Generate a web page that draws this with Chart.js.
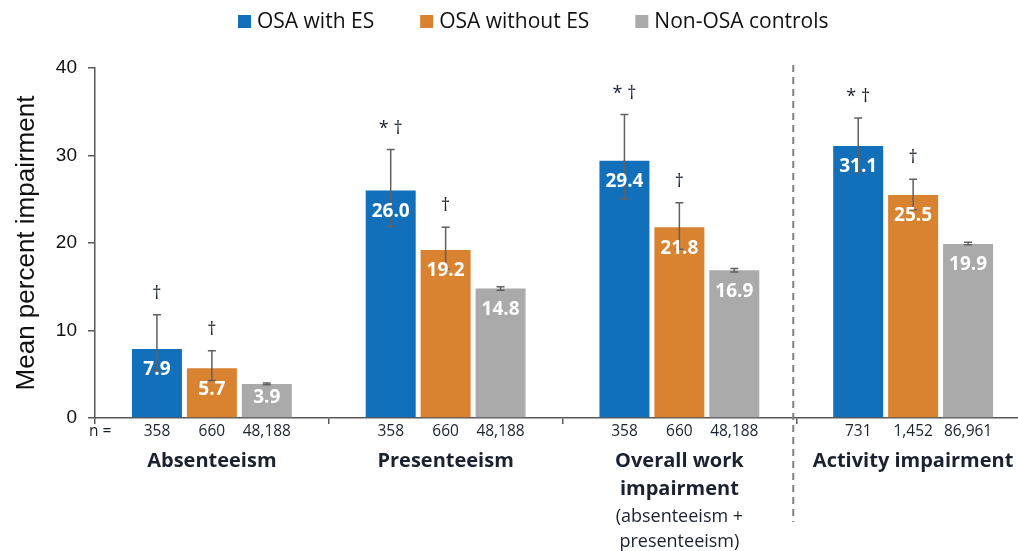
<!DOCTYPE html>
<html>
<head>
<meta charset="utf-8">
<title>Work productivity and activity impairment</title>
<script src="https://cdn.jsdelivr.net/npm/chart.js@4.4.1/dist/chart.umd.min.js"></script>
<style>
  html, body { margin: 0; padding: 0; background: #fff; overflow: hidden; }
  #wrap { width: 1018px; height: 551px; overflow: hidden; }
</style>
</head>
<body>
<div id="wrap"><canvas id="chart" width="1040" height="551"></canvas></div>
<script>
// groups on the x axis (bold lines, then the small note lines under them)
const categories = ['Absenteeism', 'Presenteeism', 'Overall work impairment', 'Activity impairment'];
const categoryLines = [['Absenteeism'], ['Presenteeism'], ['Overall work', 'impairment'], ['Activity impairment']];
const categoryNotes = [[], [], ['(absenteeism +', 'presenteeism)'], []];

const seriesNames = ['OSA with ES', 'OSA without ES', 'Non-OSA controls'];
const seriesColors = ['#1170b9', '#d98230', '#a9aaa9'];

// mean percent impairment
const withES = [7.9, 26.0, 29.4, 31.1];
const withoutES = [5.7, 19.2, 21.8, 25.5];
const controls = [3.9, 14.8, 16.9, 19.9];

// error bar ends
const withESLow = [5.4, 21.9, 25.0, 28.1];
const withESHigh = [11.8, 30.7, 34.7, 34.3];
const withoutESLow = [4.3, 17.0, 19.3, 23.8];
const withoutESHigh = [7.7, 21.8, 24.6, 27.3];
const controlsLow = [3.8, 14.6, 16.7, 19.8];
const controlsHigh = [4.0, 15.0, 17.1, 20.1];

// significance marks over the whiskers
const withESMarks = ['†', '* †', '* †', '* †'];
const withoutESMarks = ['†', '†', '†', '†'];
const controlsMarks = ['', '', '', ''];

// sample sizes
const withESN = [358, 358, 358, 731];
const withoutESN = [660, 660, 660, 1452];
const controlsN = [48188, 48188, 48188, 86961];

// y axis
const yMin = 0, yMax = 40, yStep = 10;

const INK = '#1a2230';
const AXIS = '#595959';
const SANS = '"Open Sans", "DejaVu Sans", sans-serif';
const ARIAL = '"Liberation Sans", Arial, sans-serif';

function makeSet(i, data, low, high, marks, n) {
  return {
    label: seriesNames[i],
    data: data,
    low: low,
    high: high,
    marks: marks,
    n: n,
    backgroundColor: seriesColors[i],
    categoryPercentage: 0.705,
    barPercentage: 0.91
  };
}

const overlay = {
  id: 'overlay',
  afterDatasetsDraw(chart) {
    const ctx = chart.ctx;
    const y = chart.scales.y;
    chart.data.datasets.forEach((ds, i) => {
      chart.getDatasetMeta(i).data.forEach((bar, j) => {
        const p = bar.getProps(['x', 'y', 'base'], true);
        const lo = y.getPixelForValue(ds.low[j]);
        const hi = y.getPixelForValue(ds.high[j]);
        ctx.save();
        // whisker with caps
        ctx.strokeStyle = '#606060';
        ctx.lineWidth = 1.5;
        ctx.beginPath();
        ctx.moveTo(p.x, lo); ctx.lineTo(p.x, hi);
        ctx.moveTo(p.x - 4, lo); ctx.lineTo(p.x + 4, lo);
        ctx.moveTo(p.x - 4, hi); ctx.lineTo(p.x + 4, hi);
        ctx.stroke();
        ctx.textAlign = 'center';
        ctx.textBaseline = 'middle';
        // value inside the bar
        ctx.fillStyle = '#fff';
        ctx.font = 'bold 19px ' + SANS;
        ctx.fillText(ds.data[j].toFixed(1), p.x, Math.min(p.y + 21, (p.y + p.base) / 2 - 3));
        // marks
        if (ds.marks[j]) {
          ctx.fillStyle = INK;
          ctx.font = '18px ' + SANS;
          ctx.fillText(ds.marks[j], p.x, hi - 21);
        }
        // n under the axis
        ctx.fillStyle = INK;
        ctx.font = '15.5px ' + SANS;
        ctx.fillText(ds.n[j].toLocaleString('en-US'), p.x, p.base + 14);
        ctx.restore();
      });
    });
  },
  afterDraw(chart) {
    const ctx = chart.ctx;
    const x = chart.scales.x;
    const area = chart.chartArea;
    ctx.save();
    ctx.textBaseline = 'middle';

    ctx.fillStyle = INK;
    ctx.font = '15.5px ' + SANS;
    ctx.textAlign = 'left';
    ctx.fillText('n =', area.left - 6, area.bottom + 14);

    // group names
    ctx.textAlign = 'center';
    categories.forEach((c, i) => {
      const cx = x.getPixelForValue(i);
      let ty = area.bottom + 43;
      ctx.font = 'bold 20px ' + SANS;
      categoryLines[i].forEach(line => { ctx.fillText(line, cx, ty); ty += 28; });
      ctx.font = '18px ' + SANS;
      categoryNotes[i].forEach(line => { ctx.fillText(line, cx, ty); ty += 25; });
    });

    // dashed divider before activity impairment
    const dx = (x.getPixelForValue(2) + x.getPixelForValue(3)) / 2 - 3;
    ctx.strokeStyle = '#808080';
    ctx.lineWidth = 2;
    ctx.setLineDash([7, 5]);
    ctx.beginPath();
    ctx.moveTo(dx, area.top - 3);
    ctx.lineTo(dx, area.bottom + 104);
    ctx.stroke();
    ctx.setLineDash([]);

    // legend
    let lx = 238;
    const ly = 22;
    ctx.font = '21px ' + SANS;
    ctx.textAlign = 'left';
    chart.data.datasets.forEach(ds => {
      ctx.fillStyle = ds.backgroundColor;
      ctx.fillRect(lx, ly - 7, 13, 13);
      ctx.fillStyle = '#111';
      ctx.fillText(ds.label, lx + 19, ly);
      lx += 19 + ctx.measureText(ds.label).width + 46;
    });
    ctx.restore();
  }
};

new Chart(document.getElementById('chart'), {
  type: 'bar',
  data: {
    labels: categories,
    datasets: [
      makeSet(0, withES, withESLow, withESHigh, withESMarks, withESN),
      makeSet(1, withoutES, withoutESLow, withoutESHigh, withoutESMarks, withoutESN),
      makeSet(2, controls, controlsLow, controlsHigh, controlsMarks, controlsN)
    ]
  },
  options: {
    responsive: false,
    animation: false,
    devicePixelRatio: 1,
    layout: { padding: { top: 68, right: 10, bottom: 0, left: 0 } },
    plugins: {
      legend: { display: false },
      tooltip: { enabled: false }
    },
    scales: {
      x: {
        grid: { display: true, offset: true, drawOnChartArea: false, drawTicks: true, tickLength: 6, color: AXIS, lineWidth: 1.5 },
        border: { display: true, color: AXIS, width: 1.5 },
        ticks: { display: false },
        afterFit(scale) { scale.height = 133; }
      },
      y: {
        min: yMin,
        max: yMax,
        grid: { display: true, drawOnChartArea: false, drawTicks: true, tickLength: 7, color: AXIS, lineWidth: 1.5 },
        border: { display: true, color: AXIS, width: 1.5 },
        ticks: { stepSize: yStep, padding: 11, color: '#111', font: { family: ARIAL, size: 19 } },
        title: {
          display: true,
          text: 'Mean percent impairment',
          color: '#111',
          font: { family: ARIAL, size: 26 },
          padding: { top: 11, bottom: 0 }
        },
        afterFit(scale) { scale.width = 95; }
      }
    }
  },
  plugins: [overlay]
});
</script>
</body>
</html>
